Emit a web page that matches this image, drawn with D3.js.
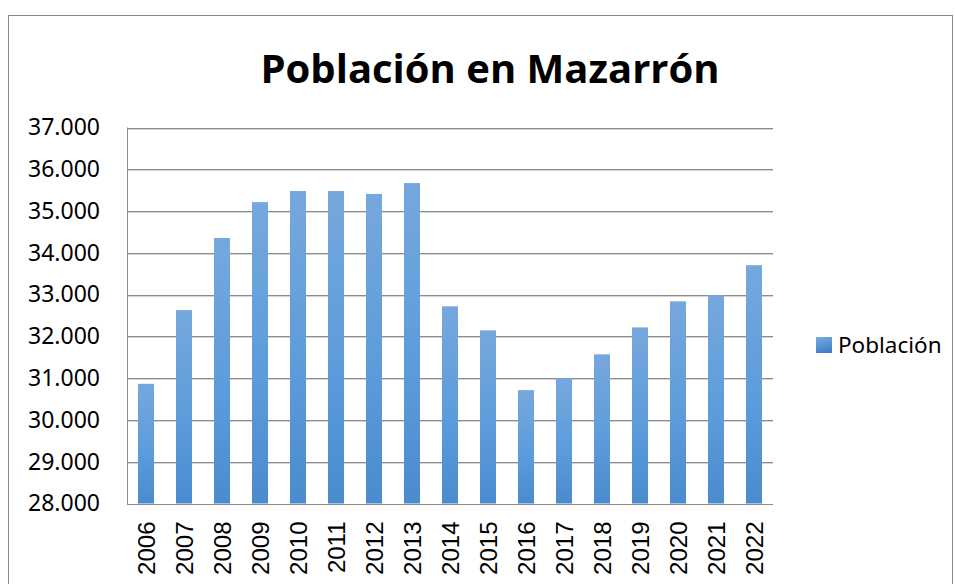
<!DOCTYPE html>
<html>
<head>
<meta charset="utf-8">
<script src="https://cdn.jsdelivr.net/npm/d3@7"></script>
<style>
  body { margin: 0; background: #fff; }
  svg { display: block; }
</style>
</head>
<body>
<svg id="chart" width="955" height="584"></svg>
<script>
const years = ["2006", "2007", "2008", "2009", "2010", "2011", "2012", "2013", "2014",
  "2015", "2016", "2017", "2018", "2019", "2020", "2021", "2022"];
const poblacion = [30865, 32630, 34355, 35215, 35480, 35480, 35410, 35670, 32720,
  32145, 30715, 31000, 31570, 32215, 32840, 32985, 33705];
const yTicks = [28000, 29000, 30000, 31000, 32000, 33000, 34000, 35000, 36000, 37000];
const seriesName = "Población";
const title = "Población en Mazarrón";

const svg = d3.select("#chart");
const plot = { left: 127, right: 773, top: 127.5, bottom: 503.5 };

const x = d3.scaleBand().domain(years).range([plot.left, plot.right]).paddingInner(0.58).paddingOuter(0.29);
const y = d3.scaleLinear().domain([28000, 37000]).range([plot.bottom, plot.top]);

const defs = svg.append("defs");
const grad = defs.append("linearGradient")
  .attr("id", "barGrad").attr("x1", 0).attr("y1", 0).attr("x2", 0).attr("y2", 1);
grad.append("stop").attr("offset", "0%").attr("stop-color", "#76a8dd");
grad.append("stop").attr("offset", "60%").attr("stop-color", "#5b9bdb");
grad.append("stop").attr("offset", "100%").attr("stop-color", "#4a8bcf");
const legGrad = defs.append("linearGradient")
  .attr("id", "legGrad").attr("x1", 0).attr("y1", 0).attr("x2", 0.3).attr("y2", 1);
legGrad.append("stop").attr("offset", "0%").attr("stop-color", "#7aacdf");
legGrad.append("stop").attr("offset", "100%").attr("stop-color", "#3f82c9");

// chart frame
svg.append("rect")
  .attr("x", 8.5).attr("y", 15.5).attr("width", 944).attr("height", 600)
  .attr("fill", "#fff").attr("stroke", "#8a8a8a").attr("stroke-width", 1);

svg.append("text")
  .attr("x", 490).attr("y", 83)
  .attr("text-anchor", "middle")
  .attr("font-family", "'Open Sans', sans-serif")
  .attr("font-weight", "bold")
  .attr("font-size", 40)
  .attr("fill", "#000")
  .text(title);

// gridlines
const grid = svg.append("g");
grid.selectAll("line.shade").data(yTicks.slice(1)).join("line")
  .attr("class", "shade")
  .attr("x1", plot.left).attr("x2", plot.right)
  .attr("y1", d => Math.round(y(d)) + 1.5).attr("y2", d => Math.round(y(d)) + 1.5)
  .attr("stroke", "#d4d4d4");
grid.selectAll("line.main").data(yTicks.slice(1)).join("line")
  .attr("class", "main")
  .attr("x1", plot.left).attr("x2", plot.right)
  .attr("y1", d => Math.round(y(d)) + 0.5).attr("y2", d => Math.round(y(d)) + 0.5)
  .attr("stroke", "#8c8c8c");

// bars
svg.append("g").selectAll("rect").data(years).join("rect")
  .attr("x", d => Math.round(x(d)))
  .attr("width", Math.round(x.bandwidth()))
  .attr("y", (d, i) => y(poblacion[i]))
  .attr("height", (d, i) => plot.bottom - y(poblacion[i]))
  .attr("fill", "url(#barGrad)");

// axes lines
svg.append("line")
  .attr("x1", plot.left + 0.5).attr("x2", plot.left + 0.5)
  .attr("y1", plot.top).attr("y2", plot.bottom + 1)
  .attr("stroke", "#8c8c8c");
svg.append("line")
  .attr("x1", plot.left).attr("x2", plot.right)
  .attr("y1", Math.round(plot.bottom) + 0.5).attr("y2", Math.round(plot.bottom) + 0.5)
  .attr("stroke", "#8c8c8c");

// y labels
const yAxis = d3.axisLeft(y).tickValues(yTicks).tickSize(0).tickPadding(27)
  .tickFormat(d => d3.format(",")(d).replace(/,/g, "."));
svg.append("g")
  .attr("transform", `translate(${plot.left},0)`)
  .call(yAxis)
  .call(g => g.select(".domain").remove())
  .call(g => g.selectAll("text")
    .attr("font-family", "'Noto Sans', sans-serif")
    .attr("font-size", 23)
    .attr("fill", "#000"));

// x labels
const xAxis = d3.axisBottom(x).tickSize(0).tickPadding(0);
svg.append("g")
  .attr("transform", `translate(0,${plot.bottom})`)
  .call(xAxis)
  .call(g => g.select(".domain").remove())
  .call(g => g.selectAll("text")
    .attr("font-family", "'Liberation Sans', Arial, sans-serif")
    .attr("font-size", 24)
    .attr("fill", "#000")
    .attr("text-anchor", "end")
    .attr("dy", null)
    .attr("transform", "translate(8.5,18) rotate(-90)"));

// legend
const legend = svg.append("g").attr("transform", "translate(816,337)");
legend.append("rect").attr("width", 16).attr("height", 16).attr("fill", "url(#legGrad)");
legend.append("text")
  .attr("x", 22).attr("y", 16)
  .attr("font-family", "'Noto Sans', sans-serif")
  .attr("font-size", 22.5)
  .attr("fill", "#000")
  .text(seriesName);
</script>
</body>
</html>
